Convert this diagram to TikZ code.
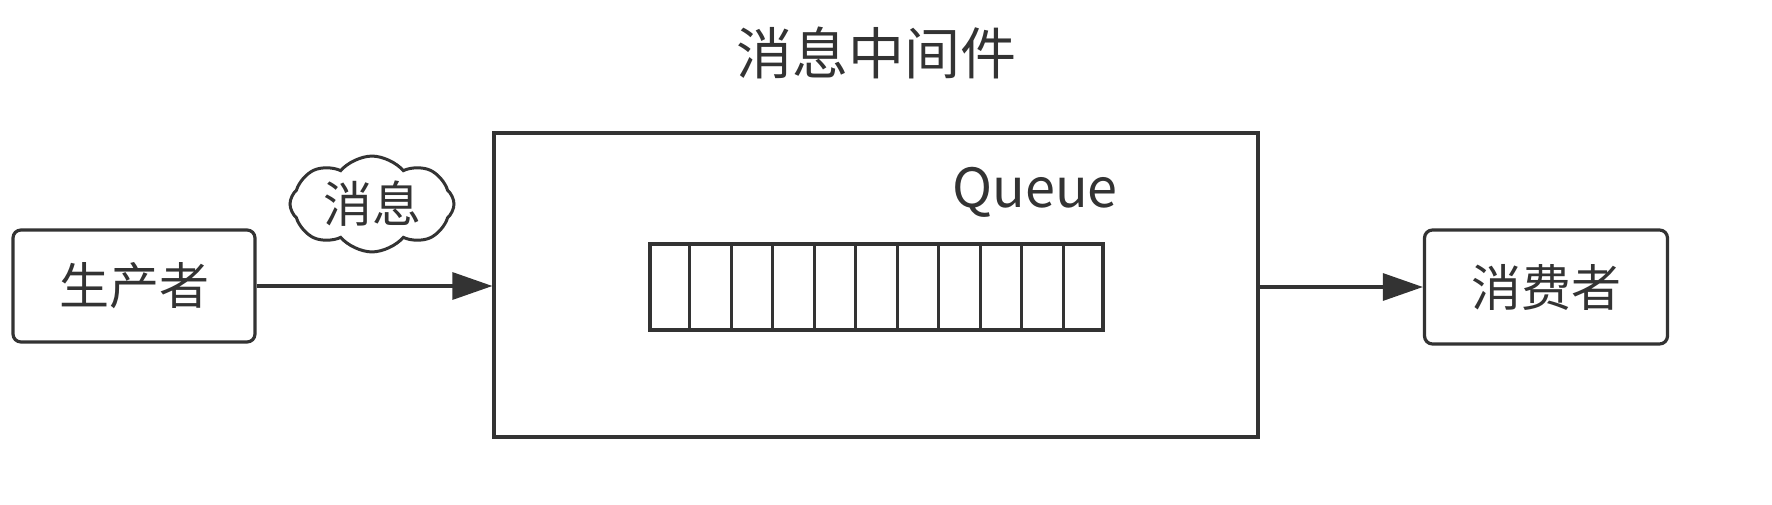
\documentclass[tikz,border=0pt]{standalone}
\usepackage{fontspec}
\setmainfont{Noto Sans CJK SC}
\usetikzlibrary{shapes.symbols,arrows.meta,calc}
\definecolor{ink}{HTML}{333333}
\begin{document}
\begin{tikzpicture}[x=0.5pt,y=-0.5pt,
  box/.style={draw=ink,line width=1.6pt,rounded corners=4pt,inner sep=0pt,font=\fontsize{25pt}{29pt}\selectfont,text=ink},
  plainbox/.style={draw=ink,line width=1.6pt,inner sep=0pt},
  conn/.style={draw=ink,line width=1.6pt,-{Triangle[length=20pt,width=13.5pt]}},
  lbl/.style={text=ink,inner sep=0pt}]
\useasboundingbox (0,0) rectangle (1772,504);
\node[lbl,font=\fontsize{28pt}{32pt}\selectfont] (title) at (876,53) {消息中间件};
\node[box,minimum width=121pt,minimum height=56pt] (prod) at (134,286) {生产者};
\node[plainbox,minimum width=382pt,minimum height=152pt] (mq) at (876,285) {};
\node[box,minimum width=121.5pt,minimum height=57pt] (cons) at (1546,287) {消费者};
\node[cloud,cloud puffs=8,cloud puff arc=100,aspect=1.8,draw=ink,line width=1.5pt,inner sep=0pt,minimum width=82pt,minimum height=46pt,font=\fontsize{24.5pt}{28pt}\selectfont,text=ink] (msg) at (372,204) {消息};
\node[lbl,font=\fontsize{27pt}{31pt}\selectfont] (qlabel) at (1035,192) {Queue};
\node[plainbox,minimum width=226.5pt,minimum height=43pt] (q) at (876.5,287) {};
\foreach \i in {1,...,10}{
  \draw[ink,line width=1.6pt] ($(q.north west)!\i/11!(q.north east)$) -- ($(q.south west)!\i/11!(q.south east)$);
}
\draw[conn] (prod.east) -- (prod.east -| mq.west);
\draw[conn] (mq.east |- cons.west) -- (cons.west);
\end{tikzpicture}
\end{document}
